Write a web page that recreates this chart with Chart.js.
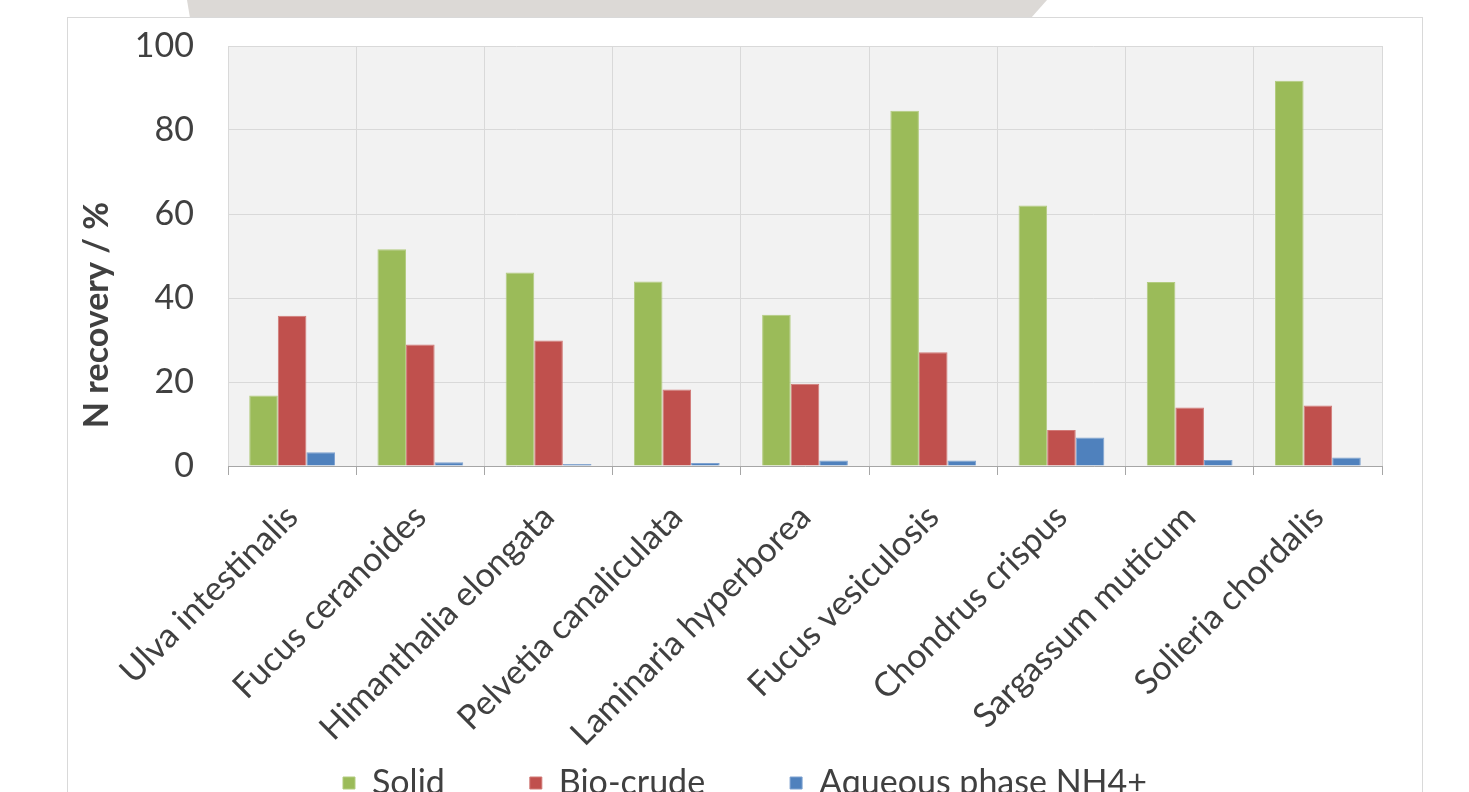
<!DOCTYPE html>
<html>
<head>
<meta charset="utf-8">
<script src="https://cdn.jsdelivr.net/npm/chart.js@4.4.1/dist/chart.umd.min.js"></script>
<style>
  html, body { margin: 0; padding: 0; width: 1469px; height: 792px; overflow: hidden; background: #ffffff; }
  #tab { position: absolute; left: 0; top: 0; width: 1469px; height: 18px; background: #dcd9d6;
         clip-path: polygon(187px 0, 1047px 0, 1031px 18px, 190px 18px); }
  #box { position: absolute; left: 67px; top: 17px; width: 1354px; height: 792px; border: 1px solid #d9d9d9; background: #fff; }
  #c { display: block; }
</style>
</head>
<body>
<div id="tab"></div>
<div id="box"><canvas id="c" width="1354" height="792"></canvas></div>
<script>
const categories = ["Ulva intestinalis", "Fucus ceranoides", "Himanthalia elongata", "Pelvetia canaliculata",
  "Laminaria hyperborea", "Fucus vesiculosis", "Chondrus crispus", "Sargassum muticum", "Solieria chordalis"];
const solid     = [16.8, 51.6, 46.1, 43.9, 36.0, 84.6, 62.0, 43.8, 91.7];
const bioCrude  = [35.8, 28.9, 29.9, 18.2, 19.6, 27.1, 8.6, 13.9, 14.4];
const aqueousNH4 = [3.3, 0.9, 0.5, 0.7, 1.3, 1.3, 6.8, 1.4, 2.0];
const yTicks = [0, 20, 40, 60, 80, 100];
const yTitle = "N recovery / %";

const FONT = "Lato";
const TXT = "#404040";

const bgPlugin = {
  id: "plotBg",
  beforeDraw(chart) {
    const { ctx, chartArea: a } = chart;
    ctx.save();
    ctx.fillStyle = "#f2f2f2";
    ctx.fillRect(a.left, a.top, a.right - a.left, a.bottom - a.top);
    ctx.restore();
  }
};
const titlePlugin = {
  id: "yTitle",
  afterDraw(chart) {
    const ctx = chart.ctx;
    ctx.save();
    ctx.translate(29, 297);
    ctx.rotate(-Math.PI / 2);
    ctx.font = "bold 34px " + FONT;
    ctx.fillStyle = TXT;
    ctx.textAlign = "center";
    ctx.textBaseline = "middle";
    ctx.fillText(yTitle, 0, 0);
    ctx.restore();
  }
};

new Chart(document.getElementById("c"), {
  type: "bar",
  data: {
    labels: categories,
    datasets: [
      { label: "Solid", data: solid, backgroundColor: "#9bbb59", borderColor: "#b3cc80", borderWidth: 1 },
      { label: "Bio-crude", data: bioCrude, backgroundColor: "#c0504d", borderColor: "#d17a77", borderWidth: 1 },
      { label: "Aqueous phase NH4+", data: aqueousNH4, backgroundColor: "#4f81bd", borderColor: "#7fa2d0", borderWidth: 1 }
    ]
  },
  options: {
    responsive: false,
    animation: false,
    devicePixelRatio: 1,
    layout: { padding: { left: 40, right: 40, top: 28, bottom: 0 } },
    datasets: { bar: { barPercentage: 1.0, categoryPercentage: 0.669 } },
    plugins: {
      legend: {
        position: "bottom",
        labels: { font: { family: FONT, size: 34 }, color: TXT, boxWidth: 12, boxHeight: 12, padding: 85 }
      },
      tooltip: { enabled: false }
    },
    scales: {
      x: {
        grid: { color: "#d9d9d9", offset: true, drawTicks: true, tickLength: 9, tickColor: "#a6a6a6" },
        border: { color: "#a6a6a6", width: 1 },
        ticks: { font: { family: FONT, size: 34 }, color: TXT, minRotation: 45, maxRotation: 45, padding: 22 },
        afterFit(scale) { scale.height = 215; scale._computeLabelArea = () => undefined; }
      },
      y: {
        min: 0, max: 100,
        afterBuildTicks(scale) { scale.ticks = yTicks.map(v => ({ value: v })); },
        grid: { color: "#d9d9d9", drawTicks: false },
        border: { display: false },
        ticks: { font: { family: FONT, size: 34 }, color: TXT, padding: 34 },
        afterFit(scale) { scale.width = 120; scale.paddingTop = 0; scale.paddingBottom = 0; }
      }
    }
  },
  plugins: [bgPlugin, titlePlugin]
});
</script>
</body>
</html>
